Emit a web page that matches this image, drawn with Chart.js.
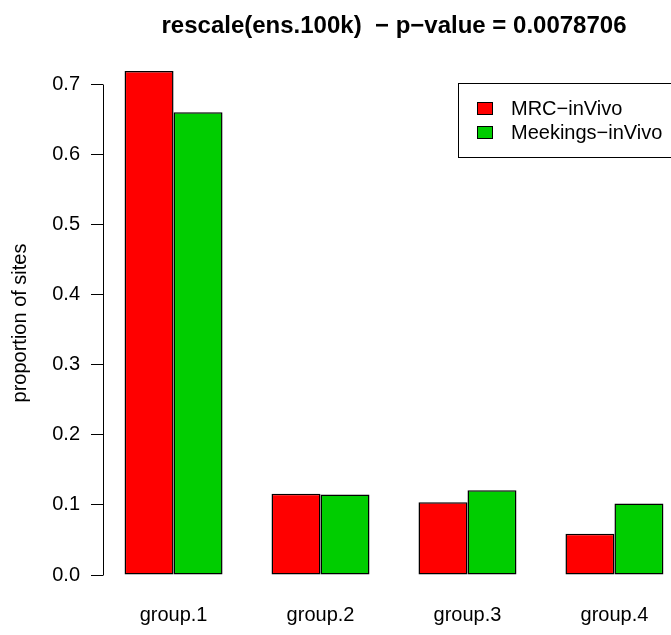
<!DOCTYPE html>
<html>
<head>
<meta charset="utf-8">
<script src="https://cdn.jsdelivr.net/npm/chart.js@4.4.1/dist/chart.umd.min.js"></script>
<style>
  html, body { margin: 0; padding: 0; background: #fff; overflow: hidden; }
  #wrap { width: 671px; height: 635px; overflow: hidden; }
</style>
</head>
<body>
<div id="wrap"><canvas id="barChart" width="700" height="635"></canvas></div>
<script>
const categories = ['group.1', 'group.2', 'group.3', 'group.4'];
const seriesNames = ['MRC\u2212inVivo', 'Meekings\u2212inVivo'];
const mrcValues = [0.719, 0.116, 0.104, 0.059];
const meekingsValues = [0.660, 0.115, 0.121, 0.102];
const seriesColors = ['#ff0000', '#00cd00'];
const yTicks = [0, 0.1, 0.2, 0.3, 0.4, 0.5, 0.6, 0.7];
const titleText = 'rescale(ens.100k)  \u2212 p\u2212value = 0.0078706';
const yTitle = 'proportion of sites';

const FONT = '"Liberation Sans", Arial, Helvetica, sans-serif';

// barplot-like layout: each group is two bars plus one bar of space in front
const groupCenters = categories.map((c, i) => 3 * i + 2);
const xLo = 1, xHi = 3 * categories.length;
const xPad = (xHi - xLo) * 0.04;
const yMax = Math.max(...mrcValues, ...meekingsValues);
const yPad = yMax * 0.04;

const toPoints = vals => vals.map((v, i) => ({ x: groupCenters[i], y: v }));

const extras = {
  id: 'extras',
  afterDraw(chart) {
    const ctx = chart.ctx;
    const area = chart.chartArea;
    const ys = chart.scales.y;
    ctx.save();

    // y axis line only runs over the tick range
    const ax = Math.round(area.left) + 0.5;
    ctx.strokeStyle = '#000';
    ctx.lineWidth = 1;
    ctx.beginPath();
    ctx.moveTo(ax, Math.round(ys.getPixelForValue(yTicks[0])) + 0.5);
    ctx.lineTo(ax, Math.round(ys.getPixelForValue(yTicks[yTicks.length - 1])) + 0.5);
    ctx.stroke();

    // main title
    ctx.fillStyle = '#000';
    ctx.font = 'bold 24px ' + FONT;
    ctx.textAlign = 'center';
    ctx.textBaseline = 'alphabetic';
    ctx.fillText(titleText, (area.left + area.right) / 2, 33);

    // legend box, top right
    ctx.strokeRect(458.5, 83.5, 240, 74);
    ctx.font = '20px ' + FONT;
    ctx.textAlign = 'left';
    ctx.textBaseline = 'middle';
    chart.data.datasets.forEach((ds, i) => {
      const cy = 108 + i * 24;
      ctx.fillStyle = ds.backgroundColor;
      ctx.fillRect(477, cy - 6, 15, 12);
      ctx.strokeRect(477.5, cy - 5.5, 15, 12);
      ctx.fillStyle = '#000';
      ctx.fillText(ds.label, 511, cy + 1);
    });
    ctx.restore();
  }
};

new Chart(document.getElementById('barChart'), {
  type: 'bar',
  data: {
    datasets: [mrcValues, meekingsValues].map((vals, i) => ({
      label: seriesNames[i],
      data: toPoints(vals),
      backgroundColor: seriesColors[i],
      borderColor: '#000',
      borderWidth: 1.5,
      borderSkipped: false,
      categoryPercentage: 2 / 3,
      barPercentage: 1
    }))
  },
  options: {
    responsive: false,
    animation: false,
    devicePixelRatio: 1,
    layout: { padding: { top: 50.8, right: 15, bottom: 0, left: 0 } },
    plugins: {
      legend: { display: false },
      title: { display: false },
      tooltip: { enabled: false }
    },
    scales: {
      x: {
        type: 'linear',
        min: xLo - xPad,
        max: xHi + xPad,
        offset: false,
        afterBuildTicks: s => { s.ticks = groupCenters.map(v => ({ value: v })); },
        afterFit: s => { s.height = 39.8; },
        border: { display: false },
        grid: { display: false, drawTicks: false, offset: false },
        ticks: {
          padding: 8,
          color: '#000',
          autoSkip: false,
          maxRotation: 0,
          font: { family: FONT, size: 20 },
          callback: (v, i) => categories[i]
        }
      },
      y: {
        min: -yPad,
        max: yMax + yPad,
        afterBuildTicks: s => { s.ticks = yTicks.map(v => ({ value: v })); },
        afterFit: s => { s.width = 103; },
        border: { display: false },
        grid: { drawOnChartArea: false, drawTicks: true, tickLength: 12, color: '#000', lineWidth: 1 },
        ticks: {
          padding: 11,
          color: '#000',
          font: { family: FONT, size: 20 },
          callback: v => v.toFixed(1)
        },
        title: {
          display: true,
          text: yTitle,
          color: '#000',
          font: { family: FONT, size: 20, lineHeight: 1.2 },
          padding: { top: 8, bottom: 0 }
        }
      }
    }
  },
  plugins: [extras]
});
</script>
</body>
</html>
